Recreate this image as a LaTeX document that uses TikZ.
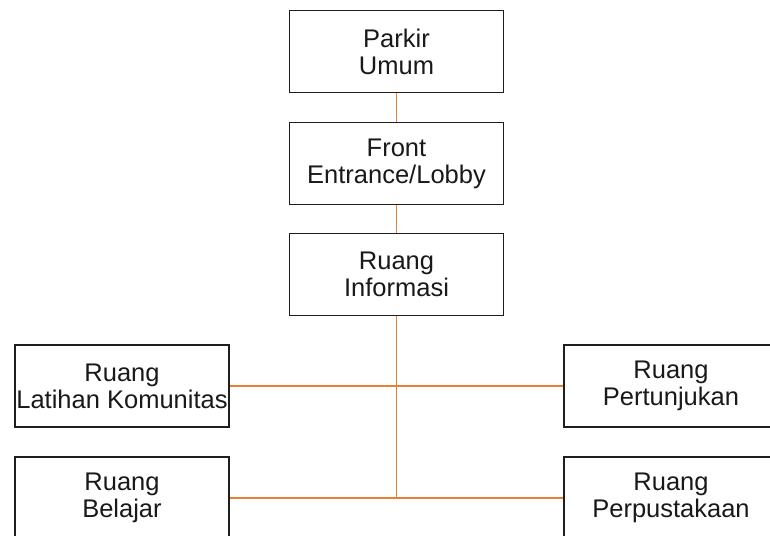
\documentclass[tikz,border=0pt]{standalone}
\usepackage{fontspec}
\setmainfont{Liberation Sans}
\definecolor{linkorange}{RGB}{237,125,49}
\definecolor{boxline}{RGB}{30,30,30}
\begin{document}
\begin{tikzpicture}[x=1pt,y=-1pt,
  room/.style={draw=boxline,line width=1.8pt,fill=white,minimum width=214pt,minimum height=82pt,
    align=center,inner sep=0pt,text=black!90,font=\fontsize{25.5}{27}\selectfont},
  link/.style={draw=linkorange,line width=1.7pt}]
\useasboundingbox (0,0) rectangle (770,535);
\node[room] (parkir) at (396.5,51.5) {Parkir\\Umum};
\node[room] (front) at (396.5,163.5) {Front\\Entrance/Lobby};
\node[room] (info) at (396.5,274.5) {Ruang\\Informasi};
\node[room] (latihan) at (122,386) {Ruang\\Latihan Komunitas};
\node[room] (pertunjukan) at (671,386) {Ruang\\Pertunjukan};
\node[room] (belajar) at (122,498) {Ruang\\Belajar};
\node[room] (perpus) at (671,498) {Ruang\\Perpustakaan};
\coordinate (j2) at (396.5,498);
\draw[link] (parkir.south) -- (front.north);
\draw[link] (front.south) -- (info.north);
\draw[link] (info.south) -- (j2);
\draw[link] (latihan.east) -- (pertunjukan.west);
\draw[link] (belajar.east) -- (perpus.west);
\end{tikzpicture}
\end{document}
